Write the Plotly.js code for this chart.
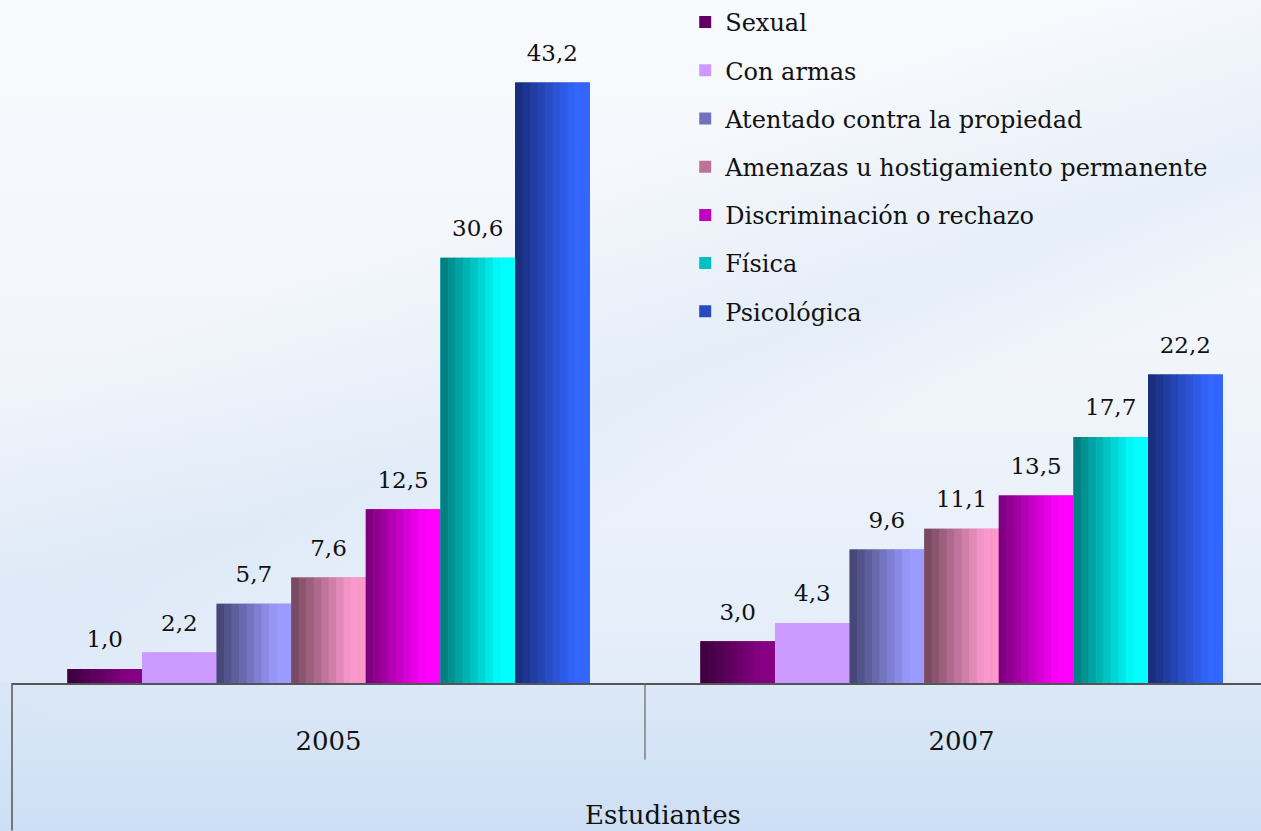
<!DOCTYPE html>
<html>
<head>
<meta charset="utf-8">
<script src="https://cdn.plot.ly/plotly-3.0.1.min.js"></script>
<style>
  html, body { margin: 0; padding: 0; }
  body {
    width: 1261px; height: 831px; overflow: hidden;
    background:
      linear-gradient(160deg, rgba(255,255,255,0) 30%, rgba(205,222,242,0.35) 48%, rgba(255,255,255,0) 58%),
      linear-gradient(to bottom, #f8fafd 0px, #f1f5fb 380px, #e2ecf9 683px, #dbe8f7 683px, #cddff5 831px);
  }
  #chart { width: 1261px; height: 831px; }
</style>
</head>
<body>
<div id="chart"></div>
<script>
const years = ['2005', '2007'];
const seriesNames = [
  'Sexual',
  'Con armas',
  'Atentado contra la propiedad',
  'Amenazas u hostigamiento permanente',
  'Discriminación o rechazo',
  'Física',
  'Psicológica'
];
const sexual = [1.0, 3.0];
const conArmas = [2.2, 4.3];
const propiedad = [5.7, 9.6];
const amenazas = [7.6, 11.1];
const discriminacion = [12.5, 13.5];
const fisica = [30.6, 17.7];
const psicologica = [43.2, 22.2];
const seriesValues = [sexual, conArmas, propiedad, amenazas, discriminacion, fisica, psicologica];

// dark (left edge) -> light (right edge) of each bar
const shades = [
  ['#3e0040', '#860084'],
  ['#cc99ff', '#cc99ff'],
  ['#474878', '#9b9bff'],
  ['#7a4a62', '#fb99cc'],
  ['#7e007e', '#ff00ff'],
  ['#008080', '#00ffff'],
  ['#1a2e7e', '#3366ff']
];

const groupPos = years.map((y, i) => i);
const groupWidth = 0.825;
const barW = groupWidth / seriesNames.length;
const start = -groupWidth / 2;
const slices = 10;

const mix = (a, b, t) => {
  const pa = [1, 3, 5].map(j => parseInt(a.substr(j, 2), 16));
  const pb = [1, 3, 5].map(j => parseInt(b.substr(j, 2), 16));
  return 'rgb(' + pa.map((v, j) => Math.round(v + (pb[j] - v) * t)).join(',') + ')';
};

const data = [];
seriesNames.forEach((name, i) => {
  const vals = seriesValues[i];
  const [dark, light] = shades[i];
  // legend + base bar
  data.push({
    type: 'bar', name: name, legendgroup: name,
    x: groupPos, y: vals,
    offset: start + i * barW, width: barW,
    marker: {color: mix(dark, light, 0.5), line: {width: 0}},
    hoverinfo: 'skip'
  });
  // banded gradient on top
  for (let k = 0; k < slices; k++) {
    const t = Math.min(1, k / (slices * 0.75));
    data.push({
      type: 'bar', name: name, legendgroup: name, showlegend: false,
      x: groupPos, y: vals,
      offset: start + i * barW + k * barW / slices,
      width: barW / slices + 0.0006,
      marker: {color: mix(dark, light, t), line: {width: 0}},
      hoverinfo: 'skip'
    });
  }
});

// value labels above the bars
const labelX = [], labelY = [];
seriesValues.forEach((vals, i) => {
  vals.forEach((v, g) => {
    labelX.push(groupPos[g] + start + (i + 0.5) * barW);
    labelY.push(v);
  });
});
data.push({
  type: 'scatter', mode: 'markers+text', showlegend: false,
  x: labelX, y: labelY,
  marker: {size: 24, opacity: 0},
  texttemplate: '%{y:.1f}', textposition: 'top center',
  textfont: {family: 'DejaVu Serif', size: 23, color: '#111'},
  hoverinfo: 'skip'
});

const baseH = 683;
const layout = {
  width: 1261, height: 831,
  margin: {l: 12, r: 0, t: 0, b: 148},
  paper_bgcolor: 'rgba(0,0,0,0)',
  plot_bgcolor: 'rgba(0,0,0,0)',
  barmode: 'overlay',
  separators: ',.',
  showlegend: true,
  legend: {
    x: 0.539, y: 1.003, xanchor: 'left', yanchor: 'top',
    traceorder: 'grouped', tracegroupgap: 14,
    bgcolor: 'rgba(0,0,0,0)',
    font: {family: 'DejaVu Serif', size: 24, color: '#111'}
  },
  xaxis: {
    range: [-0.5, 1.5 - 17 / 633],
    tickvals: groupPos, ticktext: years,
    tickfont: {family: 'DejaVu Serif', size: 26, color: '#111'},
    ticks: '', ticklabelstandoff: 34,
    showgrid: false, zeroline: false,
    showline: true, linecolor: '#555', linewidth: 1.5
  },
  yaxis: {
    range: [0, 49],
    showticklabels: false, showgrid: false, zeroline: false, ticks: ''
  },
  shapes: [
    {type: 'line', xref: 'paper', yref: 'paper', x0: 0, x1: 0, y0: 0, y1: -148 / baseH,
     line: {color: '#555', width: 1.5}},
    {type: 'line', xref: 'x', yref: 'paper', x0: 0.5, x1: 0.5, y0: 0, y1: -77 / baseH,
     line: {color: '#666', width: 1.2}}
  ],
  annotations: [
    {text: 'Estudiantes', xref: 'paper', yref: 'paper',
     x: (663 - 12) / 1249, y: -(815 - baseH) / baseH,
     xanchor: 'center', yanchor: 'middle', showarrow: false,
     font: {family: 'DejaVu Serif', size: 26, color: '#111'}}
  ]
};

Plotly.newPlot('chart', data, layout, {displayModeBar: false});
</script>
</body>
</html>
